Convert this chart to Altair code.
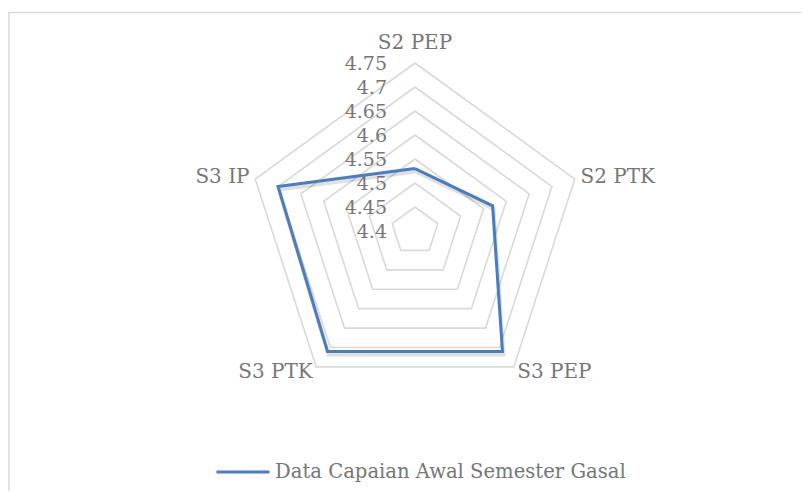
import altair as alt
import pandas as pd

# ---------------- data ----------------
categories = ["S2 PEP", "S2 PTK", "S3 PEP", "S3 PTK", "S3 IP"]
values = [4.53, 4.57, 4.71, 4.71, 4.70]
ring_levels = [4.45, 4.5, 4.55, 4.6, 4.65, 4.7, 4.75]
tick_values = [4.4, 4.45, 4.5, 4.55, 4.6, 4.65, 4.7, 4.75]
tick_labels = ["4.4", "4.45", "4.5", "4.55", "4.6", "4.65", "4.7", "4.75"]
series_name = "Data Capaian Awal Semester Gasal"

R_MIN = 4.4
R_MAX = 4.75
N = len(categories)

# ---------------- layout ----------------
W, H = 793, 483
PX = 480.0                 # pixels per data unit of radius
CX, CY = 407.0, 223.0      # centre in plot pixels
x_dom = [-CX / PX, (W - CX) / PX]
y_dom = [-(H - CY) / PX, CY / PX]

FONT = "DejaVu Serif"
TEXT_COLOR = "#767676"
RING_COLOR = "#d9d9d9"
LINE_COLOR = "#4a7dbf"

# closed polygons
series_df = pd.DataFrame({
    "idx": [i % N for i in range(N + 1)],
    "order": list(range(N + 1)),
    "value": [values[i % N] for i in range(N + 1)],
    "series": [series_name] * (N + 1),
})
ring_rows = []
for lv in ring_levels:
    for i in range(N + 1):
        ring_rows.append({"level": lv, "idx": i % N, "order": i, "value": lv})
rings_df = pd.DataFrame(ring_rows)

labels_df = pd.DataFrame({"idx": list(range(N)), "category": categories, "value": [R_MAX] * N})
ticks_df = pd.DataFrame({"value": tick_values, "label": tick_labels})

xs = alt.Scale(domain=x_dom, nice=False, zero=False)
ys = alt.Scale(domain=y_dom, nice=False, zero=False)


def polar(chart, extra_px=0.0):
    off = extra_px / PX
    return chart.transform_calculate(
        ang=f"datum.idx * 2 * PI / {N}",
        rr=f"datum.value - {R_MIN} + {off}",
    ).transform_calculate(
        px="datum.rr * sin(datum.ang)",
        py="datum.rr * cos(datum.ang)",
    )


rings = polar(alt.Chart(rings_df).mark_line(color=RING_COLOR, strokeWidth=1.6)).encode(
    x=alt.X("px:Q", scale=xs, axis=None),
    y=alt.Y("py:Q", scale=ys, axis=None),
    detail="level:N",
    order="order:Q",
)

shadow = polar(alt.Chart(series_df).mark_line(color="#000000", strokeWidth=4, opacity=0.12,
                                             xOffset=1, yOffset=3)).encode(
    x=alt.X("px:Q", scale=xs, axis=None),
    y=alt.Y("py:Q", scale=ys, axis=None),
    order="order:Q",
)

line = polar(alt.Chart(series_df).mark_line(strokeWidth=3)).encode(
    x=alt.X("px:Q", scale=xs, axis=None),
    y=alt.Y("py:Q", scale=ys, axis=None),
    order="order:Q",
    color=alt.Color(
        "series:N",
        scale=alt.Scale(range=[LINE_COLOR]),
        legend=alt.Legend(
            title=None, orient="none", legendX=207, legendY=436,
            symbolType="stroke", symbolSize=2809, symbolStrokeWidth=3,
            labelFont=FONT, labelFontSize=19.6, labelColor=TEXT_COLOR, labelOffset=4,
            labelLimit=600,
        ),
    ),
)


def label_layer(flt, align, dy):
    return polar(alt.Chart(labels_df), 6.0).transform_filter(flt).mark_text(
        font=FONT, fontSize=20, color=TEXT_COLOR, align=align, baseline="middle", dy=dy
    ).encode(
        x=alt.X("px:Q", scale=xs, axis=None),
        y=alt.Y("py:Q", scale=ys, axis=None),
        text="category:N",
    )


lab_top = label_layer("datum.idx == 0", "center", -14)
lab_right = label_layer("datum.idx == 1 || datum.idx == 2", "left", 0)
lab_left = label_layer("datum.idx == 3 || datum.idx == 4", "right", 0)

ticks = alt.Chart(ticks_df).transform_calculate(
    px="0", py=f"datum.value - {R_MIN}"
).mark_text(font=FONT, fontSize=19, color=TEXT_COLOR, align="right", baseline="middle", dx=-28, dy=1).encode(
    x=alt.X("px:Q", scale=xs, axis=None),
    y=alt.Y("py:Q", scale=ys, axis=None),
    text="label:N",
)

border_top = alt.Chart(alt.Data(values=[{}])).mark_rule(color=RING_COLOR, strokeWidth=1.5).encode(
    x=alt.value(0), x2=alt.value(W), y=alt.value(4.5)
)
border_left = alt.Chart(alt.Data(values=[{}])).mark_rule(color=RING_COLOR, strokeWidth=1.5).encode(
    x=alt.value(1), y=alt.value(4.5), y2=alt.value(H)
)

chart = alt.layer(
    border_top, border_left, rings, shadow, line, lab_top, lab_right, lab_left, ticks
).properties(
    width=W, height=H, padding=0, autosize=alt.AutoSizeParams(type="none"),
    background="white",
).configure_view(stroke=None)

chart.save("out.html", embed_options={"renderer": "svg", "actions": False})
